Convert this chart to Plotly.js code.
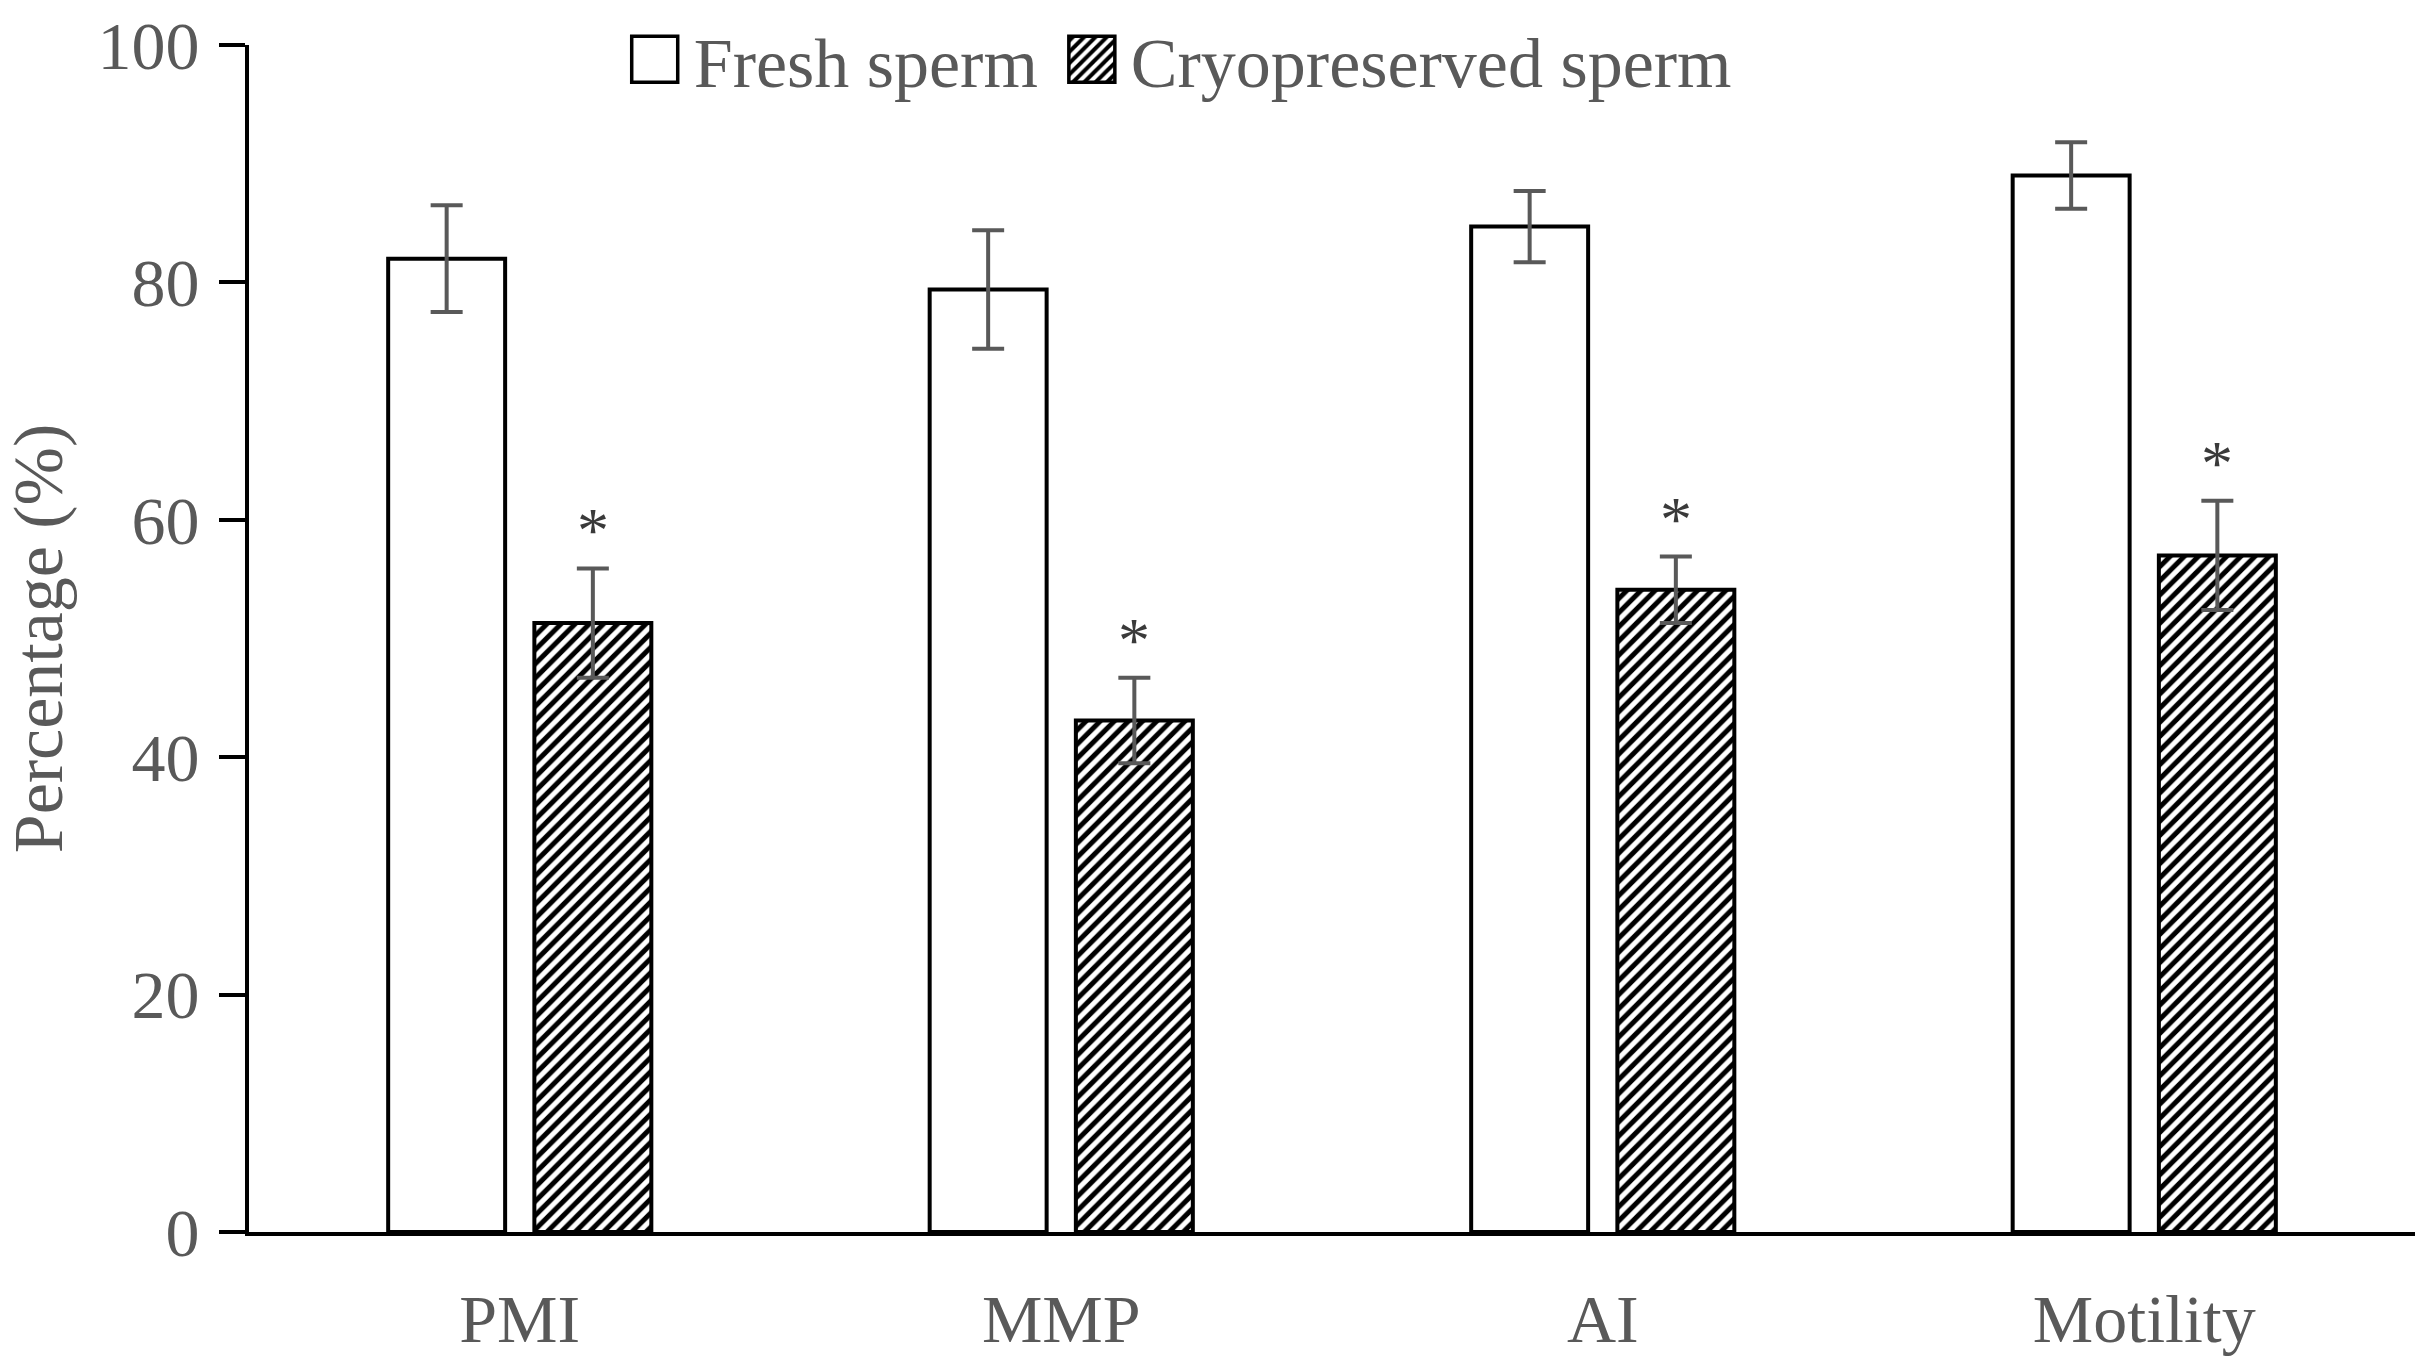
<!DOCTYPE html>
<html>
<head>
<meta charset="utf-8">
<script src="https://cdn.plot.ly/plotly-3.0.1.min.js"></script>
<style>
  html, body { margin: 0; padding: 0; background: #fff; }
  #chart { width: 2415px; height: 1362px; }
</style>
</head>
<body>
<div id="chart"></div>
<script>
// values (mean ± error)
var categories = ['PMI', 'MMP', 'AI', 'Motility'];
var freshMean = [82.0, 79.4, 84.7, 89.0];
var freshErr = [4.5, 5.0, 3.0, 2.8];
var cryoMean = [51.3, 43.1, 54.1, 57.0];
var cryoErr = [4.6, 3.6, 2.8, 4.6];
var cryoStar = ['*', '*', '*', '*'];

var serif = 'Liberation Serif, Times New Roman, serif';
var grey = '#595959';
var bargap = 0.46;

var fresh = {
  type: 'bar',
  name: 'Fresh sperm',
  x: categories,
  y: freshMean,
  marker: { color: '#ffffff', line: { color: '#000000', width: 4 } },
  error_y: { type: 'data', array: freshErr, visible: true, color: grey, thickness: 4, width: 16 }
};

var cryo = {
  type: 'bar',
  name: 'Cryopreserved sperm',
  x: categories,
  y: cryoMean,
  marker: {
    color: '#ffffff',
    line: { color: '#000000', width: 4 },
    pattern: { shape: '/', fgcolor: '#000000', bgcolor: '#ffffff', size: 10, solidity: 0.5 }
  },
  error_y: { type: 'data', array: cryoErr, visible: true, color: grey, thickness: 4, width: 16 }
};

// asterisks sit over the cryopreserved bar of each group
var slot = (1 - bargap) / 2;
var stars = categories.map(function (c, i) {
  return {
    x: i + slot / 2,
    y: cryoMean[i] + cryoErr[i],
    xref: 'x', yref: 'y',
    text: cryoStar[i],
    showarrow: false,
    yanchor: 'bottom',
    yshift: 0,
    font: { family: serif, size: 64, color: '#3a3a3a' }
  };
});

var layout = {
  width: 2415,
  height: 1362,
  margin: { l: 249, r: 0, t: 45, b: 130 },
  paper_bgcolor: '#ffffff',
  plot_bgcolor: '#ffffff',
  font: { family: serif, size: 68, color: grey },
  barmode: 'group',
  bargap: bargap,
  bargroupgap: 0.2,
  showlegend: true,
  legend: {
    orientation: 'h',
    x: 0.173, xanchor: 'left',
    y: 0.988, yanchor: 'middle',
    itemwidth: 60,
    font: { family: serif, size: 70, color: grey },
    bgcolor: 'rgba(0,0,0,0)'
  },
  xaxis: {
    type: 'category',
    range: [-0.5, 3.5],
    showline: true, linecolor: '#000000', linewidth: 4,
    ticks: '',
    showgrid: false, zeroline: false,
    ticklabelstandoff: 24,
    tickfont: { family: serif, size: 68, color: grey }
  },
  yaxis: {
    range: [0, 100],
    dtick: 20,
    showline: true, linecolor: '#000000', linewidth: 4,
    ticks: 'outside', ticklen: 26, tickwidth: 4, tickcolor: '#000000',
    showgrid: false, zeroline: false,
    ticklabelstandoff: 6,
    tickfont: { family: serif, size: 68, color: grey },
    title: { text: 'Percentage (%)', font: { family: serif, size: 70, color: grey }, standoff: 56 }
  },
  annotations: stars
};

Plotly.newPlot('chart', [fresh, cryo], layout, { displayModeBar: false, staticPlot: true }).then(function (gd) {
  // plotly's bar swatch is a fixed 12px square; the figure uses large swatches
  gd.querySelectorAll('.legend .legendpoints path').forEach(function (p) {
    p.setAttribute('d', 'M19,23H-27V-23H19Z');
    p.style.strokeWidth = '3.5px';
  });
  // a little more room before the second entry, as in the figure
  var box = gd.querySelector('.legend .scrollbox');
  if (box) box.removeAttribute('clip-path');
  var items = gd.querySelectorAll('.legend .traces');
  if (items.length > 1) {
    var t = items[1].getAttribute('transform') || '';
    items[1].setAttribute('transform', t + ' translate(18,0)');
  }
});
</script>
</body>
</html>
